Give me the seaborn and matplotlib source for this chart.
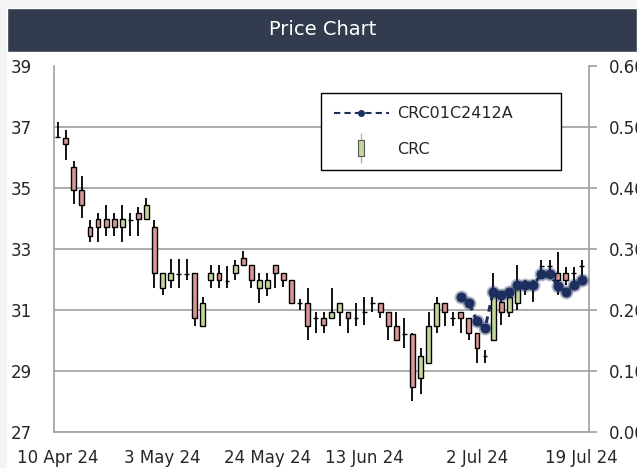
import numpy as np
import pandas as pd
import seaborn as sns
import matplotlib.pyplot as plt
from matplotlib.lines import Line2D
from matplotlib.patches import Rectangle
from matplotlib.legend_handler import HandlerTuple

# daily candles for CRC (one per trading day)
opens = [36.67, 36.65, 35.68, 34.93, 33.71, 33.97, 33.97, 33.97, 33.71, 33.95,
         34.19, 33.97, 33.71, 31.72, 31.98, 32.18, 32.18, 32.20, 30.47, 31.98,
         32.20, 31.96, 32.20, 32.69, 32.48, 31.71, 31.71, 32.48, 32.20, 31.98,
         31.22, 31.22, 30.73, 30.73, 30.73, 30.94, 30.94, 30.73, 30.94, 31.22,
         31.22, 30.94, 30.48, 30.21, 30.21, 28.76, 29.25, 30.48, 31.22, 30.73,
         30.94, 30.73, 30.24, 29.49, 30.02, 31.27, 30.94, 31.22, 31.77, 31.77,
         32.44, 32.44, 32.20, 32.20, 32.20, 32.44]
highs = [37.17, 36.90, 35.90, 35.40, 33.95, 34.17, 34.44, 34.17, 34.44, 34.17,
         34.39, 34.66, 33.95, 32.20, 32.66, 32.66, 32.66, 32.20, 31.44, 32.48,
         32.48, 32.44, 32.64, 32.94, 32.48, 32.20, 32.20, 32.48, 32.20, 31.98,
         31.35, 31.71, 30.94, 30.94, 31.71, 31.22, 30.94, 31.22, 31.44, 31.44,
         31.22, 30.94, 30.94, 30.73, 30.23, 29.74, 30.94, 31.44, 31.22, 30.94,
         30.94, 30.73, 30.24, 29.69, 32.20, 31.44, 31.60, 32.48, 31.98, 31.98,
         32.64, 32.64, 32.91, 32.42, 32.42, 32.64]
lows = [36.65, 35.92, 34.47, 34.00, 33.22, 33.22, 33.43, 33.43, 33.22, 33.43,
        33.43, 33.97, 31.73, 31.48, 31.72, 31.72, 31.98, 30.47, 30.45, 31.71,
        31.71, 31.71, 31.98, 32.44, 31.71, 31.24, 31.46, 31.71, 31.77, 31.22,
        31.00, 30.02, 30.24, 30.24, 30.73, 30.48, 30.24, 30.48, 30.51, 30.94,
        30.73, 30.02, 30.02, 29.74, 28.03, 28.25, 29.25, 30.24, 30.48, 30.48,
        30.24, 30.02, 29.25, 29.25, 30.02, 30.51, 30.76, 31.00, 31.49, 31.27,
        32.20, 32.20, 31.49, 31.82, 31.87, 31.98]
closes = [36.67, 36.44, 34.93, 34.44, 33.43, 33.71, 33.71, 33.71, 33.97, 33.95,
          33.97, 34.44, 32.20, 32.20, 32.20, 32.18, 32.18, 30.73, 31.22, 32.20,
          31.98, 31.96, 32.48, 32.48, 31.98, 31.98, 31.98, 32.20, 31.98, 31.22,
          31.22, 30.48, 30.73, 30.50, 30.94, 31.22, 30.73, 30.73, 30.94, 31.22,
          30.94, 30.48, 30.02, 30.21, 28.48, 29.49, 30.48, 31.22, 30.94, 30.73,
          30.73, 30.24, 29.74, 29.49, 31.66, 30.94, 31.44, 31.82, 31.77, 31.93,
          32.44, 32.44, 31.98, 31.98, 32.20, 32.44]

# warrant price (right axis), starts at trading day 50
warrant_start = 50
warrant = [0.222, 0.212, 0.182, 0.170, 0.230, 0.224, 0.230, 0.241, 0.241, 0.241,
           0.259, 0.259, 0.240, 0.230, 0.241, 0.250]

tick_idx = [0, 13, 26, 38, 52, 65]
tick_labels = ['10 Apr 24', '3 May 24', '24 May 24', '13 Jun 24', '2 Jul 24', '19 Jul 24']

RED = '#d99694'
GREEN = '#c4d79b'
NAVY = '#1c2f5e'
GRID = '#a6a6a6'
TXT = '#262626'

df = pd.DataFrame({'open': opens, 'high': highs, 'low': lows, 'close': closes})
df['x'] = np.arange(len(df))
wdf = pd.DataFrame({'x': np.arange(warrant_start, warrant_start + len(warrant)), 'price': warrant})

sns.set_theme(style='white')
plt.rcParams['font.family'] = ['DejaVu Sans']

fig = plt.figure(figsize=(6.37, 4.68), dpi=100, facecolor='#f3f4f6')
fig.patches.append(Rectangle((0.011, 0), 0.989, 0.983, transform=fig.transFigure,
                             facecolor='white', zorder=-2))
fig.patches.append(Rectangle((0.011, 0.889), 0.989, 0.094, transform=fig.transFigure,
                             facecolor='#333c4e', zorder=-1))
fig.text(0.506, 0.936, 'Price Chart', color='white', fontsize=14, ha='center', va='center')

ax = fig.add_axes([0.0848, 0.0769, 0.8399, 0.7821])
ax.set_facecolor('white')

# candles
body_lo = df[['open', 'close']].min(axis=1)
body_h = (df['close'] - df['open']).abs()
colors = np.where(df['close'] > df['open'], GREEN, RED)
ax.vlines(df['x'], df['low'], df['high'], color='black', lw=1.3, zorder=2)
ax.bar(df['x'], body_h, bottom=body_lo, width=0.6, color=colors,
       edgecolor='black', linewidth=1.0, zorder=3)

ax.set_xlim(-0.46, 65.9)
ax.set_ylim(27, 39)
ax.set_yticks(np.arange(27, 40, 2))
ax.set_xticks(tick_idx, tick_labels)
ax.yaxis.grid(True, color=GRID, lw=1.3)
ax.set_axisbelow(True)
ax.yaxis.get_gridlines()[-1].set_visible(False)
ax.tick_params(axis='y', length=0, pad=16, labelsize=12, labelcolor=TXT)
ax.tick_params(axis='x', length=0, pad=12, labelsize=12, labelcolor=TXT)
ax.spines['top'].set_visible(False)
ax.spines['right'].set_visible(False)
for s in ['left', 'bottom']:
    ax.spines[s].set_color(GRID)
    ax.spines[s].set_linewidth(1.3)

# warrant line on right axis
ax2 = ax.twinx()
sns.scatterplot(data=wdf, x='x', y='price', ax=ax2, color=NAVY, s=100, alpha=0.35,
                linewidth=0, legend=False, zorder=4)
sns.lineplot(data=wdf, x='x', y='price', ax=ax2, color=NAVY, lw=2.2, marker='o',
             markersize=6.5, markeredgecolor=NAVY, dashes=False, legend=False, zorder=5)
ax2.lines[-1].set_linestyle((0, (2.2, 1.6)))
ax2.set_ylim(0, 0.6)
ax2.set_yticks(np.arange(0, 0.61, 0.1))
ax2.set_yticklabels([f'{v:.2f}' for v in np.arange(0, 0.61, 0.1)])
ax2.set_ylabel('')
ax2.set_xlabel('')
ax2.tick_params(axis='y', length=6, width=1.3, color=GRID, pad=8, labelsize=12, labelcolor=TXT)
for s in ['top', 'left', 'bottom']:
    ax2.spines[s].set_visible(False)
ax2.spines['right'].set_color(GRID)
ax2.spines['right'].set_linewidth(1.3)
ax.set_xlabel('')

# legend
rect = [(-1, -3), (1, -3), (1, 3), (-1, 3), (-1, -3)]
h_line = Line2D([], [], color=NAVY, ls=(0, (3, 2)), lw=1.5, marker='o', ms=4)
h_candle = (Line2D([], [], color='#b0b0b0', marker='|', ms=22, ls='none', mew=1),
            Line2D([], [], marker=rect, ms=12, mfc=GREEN, mec='#555555', mew=0.8, ls='none'))
leg = ax2.legend([h_line, h_candle], ['CRC01C2412A', 'CRC'],
                 handler_map={tuple: HandlerTuple(ndivide=1)},
                 loc='upper left', bbox_to_anchor=(0.4985, 0.727, 0.4485, 0.198),
                 mode='expand', frameon=True, fancybox=False, edgecolor='black',
                 framealpha=1, fontsize=11.5, handlelength=3.5, labelspacing=1.3,
                 borderpad=0.8, handletextpad=0.5, borderaxespad=0)
leg.get_frame().set_linewidth(1.0)
for t in leg.get_texts():
    t.set_color(TXT)

fig.savefig('out.png', dpi=100, facecolor=fig.get_facecolor())
